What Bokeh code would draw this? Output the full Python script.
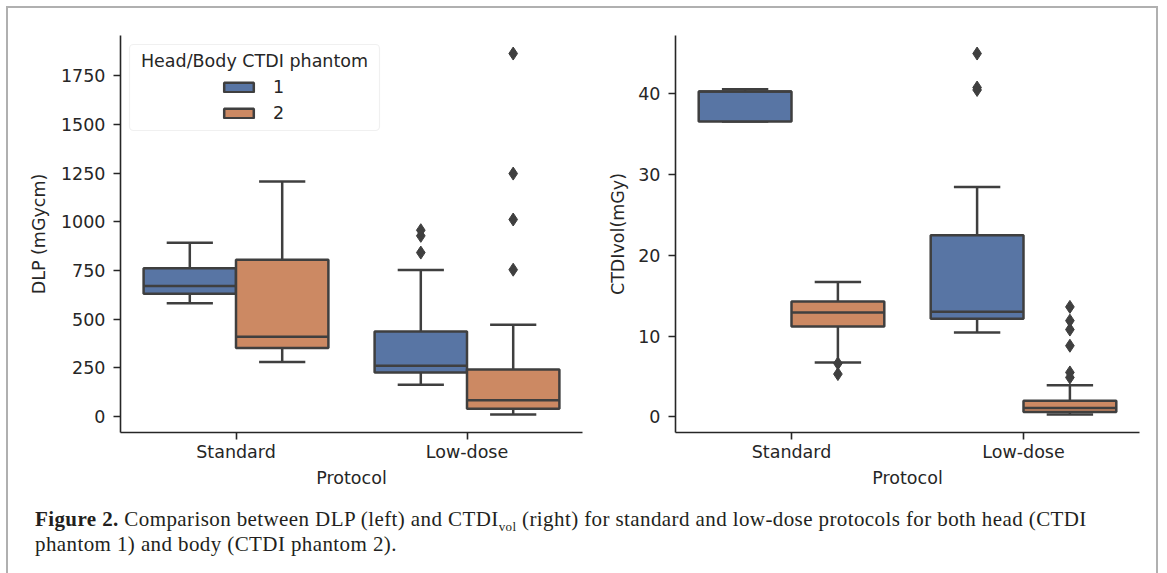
from bokeh.plotting import figure
from bokeh.models import (ColumnDataSource, FixedTicker, Range1d, Legend, LegendItem,
                          Label, BoxAnnotation, Div)
from bokeh.layouts import row, column
from bokeh.embed import file_html
from bokeh.resources import INLINE

# ---------------- data ----------------
PROTOCOLS = ["Standard", "Low-dose"]
PHANTOMS = ["1", "2"]
PHANTOM_COLORS = ["#5875A4", "#CC8963"]
LEGEND_TITLE = "Head/Body CTDI phantom"
X_LABEL = "Protocol"

# DLP (mGycm), indexed [protocol][phantom]
DLP_LOWER = [[581, 280], [163, 10]]
DLP_Q1 = [[631, 352], [226, 39]]
DLP_MEDIAN = [[670, 409], [260, 83]]
DLP_Q3 = [[761, 805], [437, 241]]
DLP_UPPER = [[893, 1207], [752, 471]]
DLP_OUTLIERS = [[[], []], [[842, 928, 957], [754, 1012, 1248, 1865]]]
DLP_TICKS = [0, 250, 500, 750, 1000, 1250, 1500, 1750]

# CTDIvol (mGy), indexed [protocol][phantom]
CTDI_LOWER = [[36.5, 6.74], [10.44, 0.31]]
CTDI_Q1 = [[36.5, 11.17], [12.12, 0.6]]
CTDI_MEDIAN = [[40.2, 12.9], [13.0, 1.12]]
CTDI_Q3 = [[40.22, 14.27], [22.46, 2.0]]
CTDI_UPPER = [[40.5, 16.67], [28.4, 3.93]]
CTDI_OUTLIERS = [[[], [6.62, 5.3]], [[40.4, 40.7, 44.9], [4.88, 5.5, 8.8, 10.8, 11.9, 13.6]]]
CTDI_TICKS = [0, 10, 20, 30, 40]

# ---------------- styles ----------------
LINE = "#3f3f3f"
LW = 2.5
BOX_W = 0.4
FONT = "DejaVu Sans"
FS = "17.5px"
TXT = "#262626"
FRAME = "#b0b0b0"


def flat(*groups):
    out = []
    for g in groups:
        for a in g:
            for b in a:
                if isinstance(b, list):
                    out.extend(b)
                else:
                    out.append(b)
    return out


def y_range(*groups):
    vals = flat(*groups)
    lo, hi = min(vals), max(vals)
    pad = 0.05 * (hi - lo)
    return Range1d(lo - pad, hi + pad)


def make_fig(ylabel, yticks, yr, left, right, fw, label_standoff):
    p = figure(frame_width=fw, frame_height=397,
               min_border_left=left, min_border_right=right,
               min_border_top=27, min_border_bottom=58,
               x_range=Range1d(-0.5, len(PROTOCOLS) - 0.5), y_range=yr,
               output_backend="svg", toolbar_location=None)
    p.xgrid.visible = False
    p.ygrid.visible = False
    p.outline_line_color = None
    p.background_fill_color = "white"
    p.border_fill_color = "white"
    p.xaxis.ticker = FixedTicker(ticks=list(range(len(PROTOCOLS))))
    p.xaxis.major_label_overrides = {i: lab for i, lab in enumerate(PROTOCOLS)}
    p.yaxis.ticker = FixedTicker(ticks=yticks)
    p.xaxis.axis_label = X_LABEL
    p.yaxis.axis_label = ylabel
    for ax in (p.xaxis[0], p.yaxis[0]):
        ax.axis_line_color = TXT
        ax.axis_line_width = 1.6
        ax.major_tick_line_color = TXT
        ax.major_tick_line_width = 1.6
        ax.major_tick_out = 7
        ax.major_tick_in = 0
        ax.minor_tick_line_color = None
        ax.major_label_text_font = FONT
        ax.major_label_text_font_size = FS
        ax.major_label_text_color = TXT
        ax.axis_label_text_font = FONT
        ax.axis_label_text_font_size = FS
        ax.axis_label_text_font_style = "normal"
        ax.axis_label_text_color = TXT
    p.xaxis.major_label_standoff = 2
    p.xaxis.axis_label_standoff = 3
    p.yaxis.major_label_standoff = 8
    p.yaxis.axis_label_standoff = label_standoff
    return p


def draw_boxes(p, lower, q1, med, q3, upper, outliers):
    rends = []
    n = len(PHANTOMS)
    for j in range(n):
        off = (j - (n - 1) / 2) * BOX_W
        xs = [i + off for i in range(len(PROTOCOLS))]
        src = ColumnDataSource(dict(
            x=xs,
            xl=[x - BOX_W / 2 for x in xs], xr=[x + BOX_W / 2 for x in xs],
            cl=[x - BOX_W / 4 for x in xs], cr=[x + BOX_W / 4 for x in xs],
            lower=[lower[i][j] for i in range(len(PROTOCOLS))],
            q1=[q1[i][j] for i in range(len(PROTOCOLS))],
            med=[med[i][j] for i in range(len(PROTOCOLS))],
            q3=[q3[i][j] for i in range(len(PROTOCOLS))],
            upper=[upper[i][j] for i in range(len(PROTOCOLS))],
        ))
        kw = dict(source=src, line_color=LINE, line_width=LW)
        p.segment(x0="x", y0="q3", x1="x", y1="upper", **kw)
        p.segment(x0="x", y0="lower", x1="x", y1="q1", **kw)
        p.segment(x0="cl", y0="upper", x1="cr", y1="upper", **kw)
        p.segment(x0="cl", y0="lower", x1="cr", y1="lower", **kw)
        r = p.vbar(x="x", width=BOX_W, bottom="q1", top="q3",
                   fill_color=PHANTOM_COLORS[j], **kw)
        p.segment(x0="xl", y0="med", x1="xr", y1="med", **kw)
        ox = [xs[i] for i in range(len(PROTOCOLS)) for v in outliers[i][j]]
        oy = [v for i in range(len(PROTOCOLS)) for v in outliers[i][j]]
        if ox:
            p.scatter(ox, oy, marker="diamond", size=13, color=LINE)
        rends.append(r)
    return rends


# ---------------- left: DLP ----------------
p1 = make_fig("DLP (mGycm)", DLP_TICKS,
              y_range(DLP_LOWER, DLP_UPPER, DLP_OUTLIERS), 112, 20, 462, 9)
r1 = draw_boxes(p1, DLP_LOWER, DLP_Q1, DLP_MEDIAN, DLP_Q3, DLP_UPPER, DLP_OUTLIERS)

# legend frame + centred title + items
p1.add_layout(BoxAnnotation(left=9, right=259, bottom=302, top=388,
                            left_units="screen", right_units="screen",
                            bottom_units="screen", top_units="screen",
                            fill_color="white", fill_alpha=0.85,
                            line_color="#cccccc", line_width=1.2, border_radius=4))
p1.add_layout(Label(x=134, y=372, x_units="screen", y_units="screen",
                    text=LEGEND_TITLE, text_align="center", text_baseline="middle",
                    text_font=FONT, text_font_size=FS, text_color=TXT))
leg = Legend(items=[LegendItem(label=PHANTOMS[j], renderers=[r1[j]]) for j in range(len(PHANTOMS))],
             location=(100, 309), orientation="vertical",
             glyph_width=37, glyph_height=12, label_standoff=16, spacing=6,
             padding=0, margin=0, border_line_alpha=0, background_fill_alpha=0,
             label_text_font=FONT, label_text_font_size=FS, label_text_color=TXT)
p1.add_layout(leg)

# ---------------- right: CTDIvol ----------------
p2 = make_fig("CTDIvol(mGy)", CTDI_TICKS,
              y_range(CTDI_LOWER, CTDI_UPPER, CTDI_OUTLIERS), 73, 17, 464, 7)
draw_boxes(p2, CTDI_LOWER, CTDI_Q1, CTDI_MEDIAN, CTDI_Q3, CTDI_UPPER, CTDI_OUTLIERS)

# ---------------- caption ----------------
caption = Div(
    text=('<div style="margin-left:27px;margin-top:17px;font-family:\'Liberation Serif\',serif;'
          'font-size:21px;letter-spacing:0.4px;line-height:25px;color:#231f20;white-space:nowrap;">'
          '<b>Figure 2.</b> Comparison between DLP (left) and CTDI'
          '<sub style="font-size:13px;line-height:0;">vol</sub> (right) for standard and '
          'low-dose protocols for both head (CTDI<br>phantom 1) and body (CTDI phantom 2).</div>'),
    width=1148, height=83, margin=(0, 0, 0, 0))

layout = column(row(p1, p2), caption,
                styles={"margin-left": "8px", "margin-top": "8px",
                        "box-shadow": f"-2px 0 0 0 {FRAME}, 2px 0 0 0 {FRAME}, 0 -2px 0 0 {FRAME}, "
                                      f"-2px -2px 0 0 {FRAME}, 2px -2px 0 0 {FRAME}",
                        "background": "white"})

open("out.html", "w").write(file_html(layout, INLINE))
